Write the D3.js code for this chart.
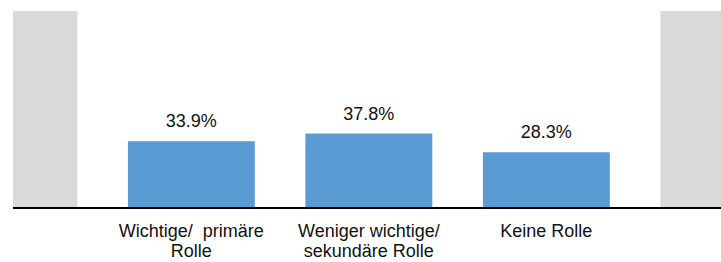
<!DOCTYPE html>
<html>
<head>
<meta charset="utf-8">
<script src="https://cdn.jsdelivr.net/npm/d3@7"></script>
<style>
  body { margin: 0; background: #fff; }
  text { font-family: "Liberation Sans", Arial, sans-serif; }
</style>
</head>
<body>
<div id="chart"></div>
<script>
// Daten
var categories = ["links", "Wichtige/  primäre Rolle", "Weniger wichtige/ sekundäre Rolle", "Keine Rolle", "rechts"];
var labelLines = [[], ["Wichtige/  primäre", "Rolle"], ["Weniger wichtige/", "sekundäre Rolle"], ["Keine Rolle"], []];
var values = [100, 33.9, 37.8, 28.3, 100];
var isFrame = [true, false, false, false, true];

// Groesse
var w = 721, h = 262;
var plotLeft = 13, plotRight = 721, baseY = 208, topY = 11;

var svg = d3.select("#chart")
  .append("svg")
  .attr("width", w)
  .attr("height", h);

svg.append("defs").append("clipPath")
  .attr("id", "plotclip")
  .append("rect")
  .attr("x", plotLeft)
  .attr("y", 0)
  .attr("width", plotRight - plotLeft)
  .attr("height", baseY);

// Scales
var x = d3.scaleBand()
  .domain(categories)
  .range([-74.9, 812.6])
  .paddingInner(0.285)
  .paddingOuter(0.1425);

var y = d3.scaleLinear()
  .domain([0, 100])
  .range([baseY, topY]);

// Balken
svg.append("g")
  .attr("clip-path", "url(#plotclip)")
  .selectAll("rect")
  .data(categories)
  .enter()
  .append("rect")
  .attr("x", function(d) { return x(d); })
  .attr("y", function(d, i) { return y(values[i]); })
  .attr("width", x.bandwidth())
  .attr("height", function(d, i) { return y(0) - y(values[i]); })
  .attr("fill", function(d, i) { return isFrame[i] ? "#d9d9d9" : "#5b9bd5"; });

// Achse
var xAxis = d3.axisBottom(x).tickSize(0).tickFormat("");
var axisG = svg.append("g")
  .attr("transform", "translate(0," + baseY + ")")
  .call(xAxis);
axisG.select(".domain").remove();
axisG.append("line")
  .attr("x1", plotLeft)
  .attr("x2", plotRight)
  .attr("stroke", "#000")
  .attr("stroke-width", 2);

// Kategorie-Labels
categories.forEach(function(c, i) {
  labelLines[i].forEach(function(line, j) {
    svg.append("text")
      .attr("x", x(c) + x.bandwidth() / 2)
      .attr("y", 237 + j * 20)
      .attr("text-anchor", "middle")
      .attr("font-size", "18px")
      .attr("fill", "#111")
      .style("white-space", "pre")
      .text(line);
  });
});

// Werte-Labels
svg.selectAll(".val")
  .data(categories.filter(function(d, i) { return !isFrame[i]; }))
  .enter()
  .append("text")
  .attr("class", "val")
  .attr("x", function(d) { return x(d) + x.bandwidth() / 2; })
  .attr("y", function(d) { return y(values[categories.indexOf(d)]) - 14; })
  .attr("text-anchor", "middle")
  .attr("font-size", "18px")
  .attr("fill", "#111")
  .text(function(d) { return values[categories.indexOf(d)].toFixed(1) + "%"; });
</script>
</body>
</html>
